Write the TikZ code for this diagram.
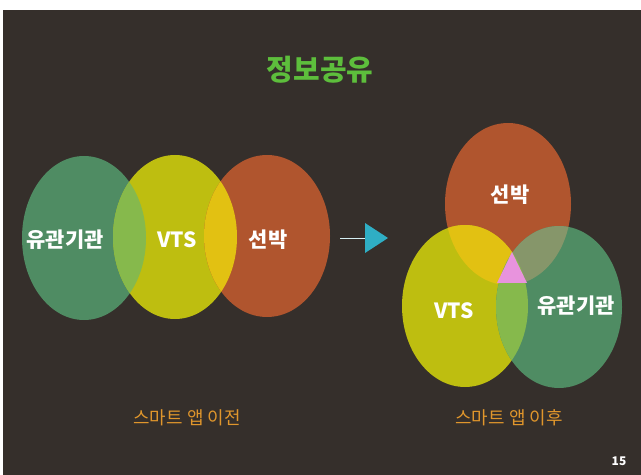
\documentclass[tikz,border=0pt]{standalone}
\usepackage{fontspec}
\setmainfont{Noto Sans CJK KR}
\usetikzlibrary{arrows.meta}
\definecolor{bgc}{HTML}{352F2B}
\definecolor{grn}{HTML}{4F8C63}
\definecolor{ylw}{HTML}{BEBE10}
\definecolor{org}{HTML}{B0552E}
\definecolor{gy}{HTML}{86B94C}
\definecolor{yo}{HTML}{E2C112}
\definecolor{og}{HTML}{86966A}
\definecolor{pnk}{HTML}{E893DD}
\definecolor{ttl}{HTML}{5DBE3C}
\definecolor{sub}{HTML}{E0962C}
\definecolor{arr}{HTML}{2FAEC4}
\tikzset{
  lbl/.style={text=white,font=\fontsize{21}{21}\selectfont\bfseries,inner sep=0pt},
  sublbl/.style={text=sub,font=\fontsize{18}{18}\selectfont,inner sep=0pt},
}
\begin{document}
\begin{tikzpicture}[x=1bp,y=-1bp]
\useasboundingbox (0,0) rectangle (641,475);
\fill[white] (0,0) rectangle (641,475);
\fill[bgc] (3,10) rectangle (641,475);
% title
\node[text=ttl,font=\fontsize{29}{29}\selectfont\bfseries,inner sep=0pt] (title) at (320,70) {정보공유};
% left group
\fill[grn] (84,238) ellipse [x radius=62,y radius=82];
\fill[ylw] (175,237) ellipse [x radius=62,y radius=82];
\fill[org] (267,236) ellipse [x radius=63,y radius=81];
\begin{scope}
  \clip (84,238) ellipse [x radius=62,y radius=82];
  \fill[gy] (175,237) ellipse [x radius=62,y radius=82];
\end{scope}
\begin{scope}
  \clip (175,237) ellipse [x radius=62,y radius=82];
  \fill[yo] (267,236) ellipse [x radius=63,y radius=81];
\end{scope}
\node[lbl] (l1) at (65,240) {유관기관};
\node[lbl] (l2) at (177,240) {VTS};
\node[lbl] (l3) at (268,240) {선박};
% arrow
\coordinate (as) at (340,238);
\coordinate (ae) at (366,238);
\draw[white!80!arr,line width=0.8pt] (as) -- (ae);
\fill[arr] (365,223) -- (388,238) -- (365,253) -- cycle;
% right group
\fill[org] (508,204) ellipse [x radius=63,y radius=81];
\fill[ylw] (465,306) ellipse [x radius=63,y radius=81];
\fill[grn] (559,307) ellipse [x radius=63,y radius=81];
\begin{scope}
  \clip (508,204) ellipse [x radius=63,y radius=81];
  \fill[yo] (465,306) ellipse [x radius=63,y radius=81];
\end{scope}
\begin{scope}
  \clip (508,204) ellipse [x radius=63,y radius=81];
  \fill[og] (559,307) ellipse [x radius=63,y radius=81];
\end{scope}
\begin{scope}
  \clip (465,306) ellipse [x radius=63,y radius=81];
  \fill[gy] (559,307) ellipse [x radius=63,y radius=81];
\end{scope}
\fill[pnk] (512,252) -- (497,283) -- (527,283) -- cycle;
\node[lbl] (r1) at (510,195) {선박};
\node[lbl] (r2) at (454,311) {VTS};
\node[lbl] (r3) at (576,306) {유관기관};
% subtitles
\node[sublbl] (s1) at (187,418) {스마트 앱 이전};
\node[sublbl] (s2) at (509,418) {스마트 앱 이후};
\node[text=white,font=\fontsize{12}{12}\selectfont\bfseries,inner sep=0pt] (pg) at (619,461) {15};
\end{tikzpicture}
\end{document}
